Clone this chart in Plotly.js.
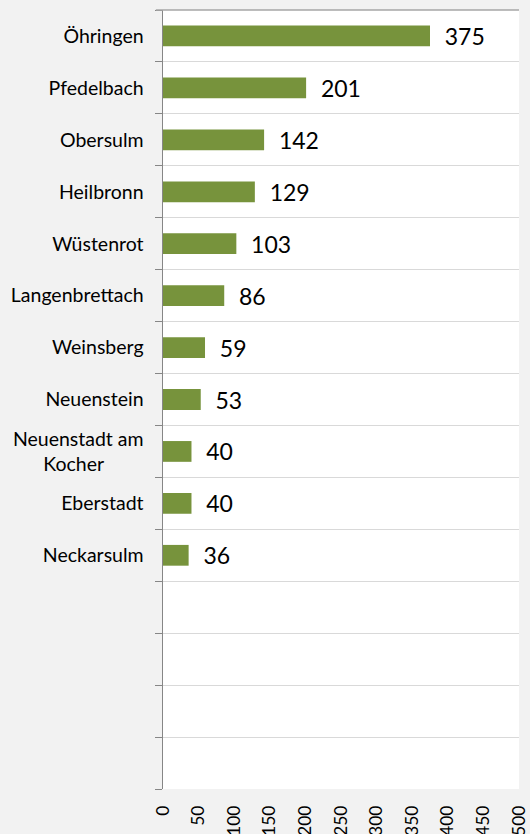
<!DOCTYPE html>
<html>
<head>
<meta charset="utf-8">
<script src="https://cdn.plot.ly/plotly-3.0.1.min.js"></script>
<style>html,body{margin:0;padding:0;background:#f2f2f2;}#chart{width:530px;height:834px;}</style>
</head>
<body>
<div id="chart"></div>
<script>
const categories = ["Öhringen","Pfedelbach","Obersulm","Heilbronn","Wüstenrot","Langenbrettach","Weinsberg","Neuenstein","Neuenstadt am Kocher","Eberstadt","Neckarsulm"];
const values = [375,201,142,129,103,86,59,53,40,40,36];
const emptySlots = [" ", "  ", "   ", "    "];
const xTicks = [0,50,100,150,200,250,300,350,400,450,500];

const NB = "\u00A0";
const labelFor = c => c === "Neuenstadt am Kocher" ? "Neuenstadt am<br>Kocher" + NB.repeat(8) : c;

const allY = categories.concat(emptySlots);
const allX = values.concat(emptySlots.map(() => null));

const trace = {
  type: "bar",
  orientation: "h",
  y: allY,
  x: allX,
  text: allX.map(v => v === null ? "" : "  " + v),
  textposition: "outside",
  constraintext: "none",
  cliponaxis: false,
  textfont: {family: "Lato, sans-serif", size: 23, color: "#000000"},
  marker: {color: "#77933c", line: {width: 0}},
  hoverinfo: "none"
};

const layout = {
  width: 530, height: 834,
  margin: {l: 163, r: 11, t: 10, b: 45},
  paper_bgcolor: "#f2f2f2",
  plot_bgcolor: "#ffffff",
  showlegend: false,
  bargap: 0.6,
  font: {family: "Lato, sans-serif", color: "#000000"},
  shapes: [
    {type: "line", xref: "paper", yref: "paper", x0: -0.02, x1: 1, y0: 1, y1: 1,
     line: {color: "#a6a6a6", width: 1.5}}
  ],
  xaxis: {
    range: [0, 500],
    tickvals: xTicks,
    ticktext: xTicks.map(String),
    tickangle: -90,
    showgrid: false,
    zeroline: false,
    showline: false,
    ticks: "",
    ticklabelstandoff: 12,
    tickfont: {size: 17.5, color: "#000000"},
    fixedrange: true
  },
  yaxis: {
    type: "category",
    categoryorder: "array",
    categoryarray: allY,
    tickmode: "array",
    tickvals: allY,
    ticktext: allY.map(labelFor),
    range: [14.5, -0.5],
    tickson: "boundaries",
    ticks: "outside",
    ticklen: 7,
    tickcolor: "#868686",
    showgrid: true,
    gridcolor: "#d9d9d9",
    gridwidth: 1,
    showline: true,
    linecolor: "#868686",
    linewidth: 1.5,
    zeroline: false,
    ticklabelstandoff: 14,
    tickfont: {size: 19.5, color: "#000000"},
    fixedrange: true
  }
};

Plotly.newPlot("chart", [trace], layout, {displayModeBar: false, staticPlot: true});
</script>
</body>
</html>
